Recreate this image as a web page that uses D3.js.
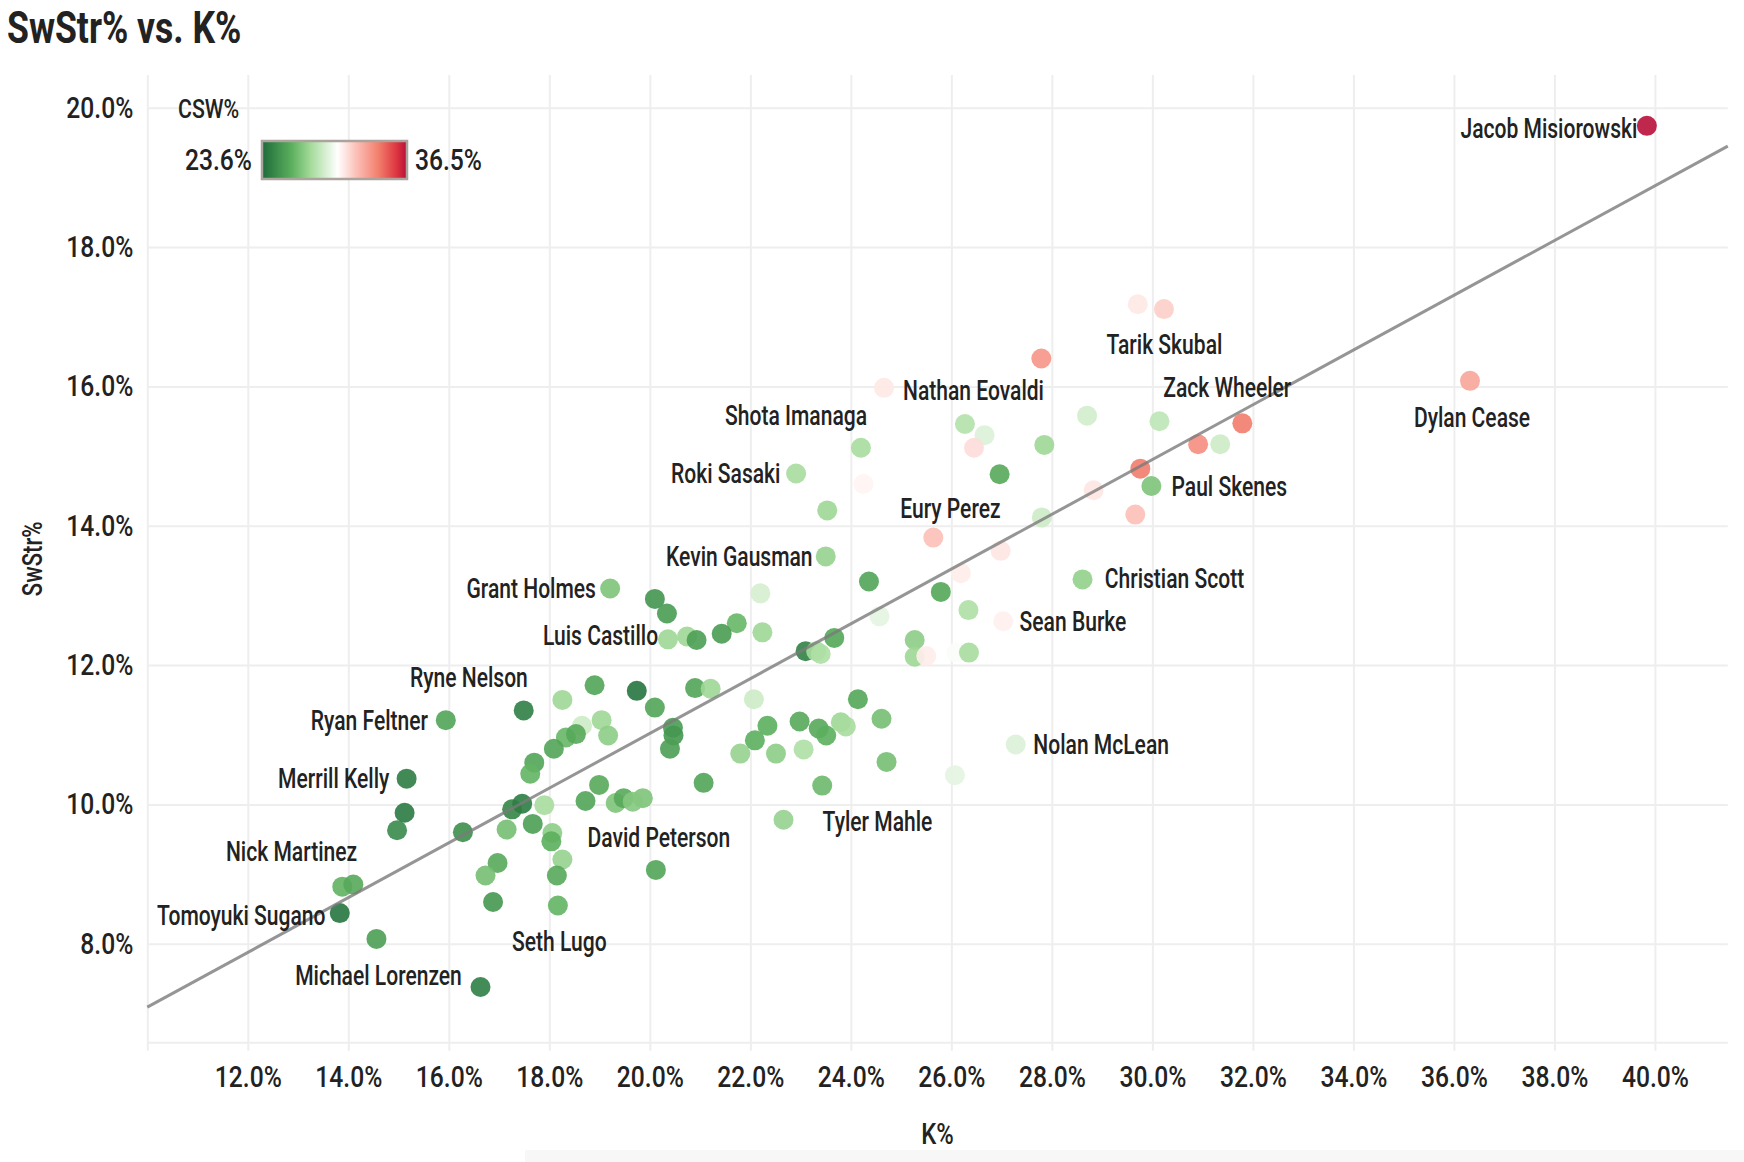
<!DOCTYPE HTML>
<html>
	<head>
		<meta http-equiv="content-type" content="text/html; charset=utf-8">
		<title>SwStr% vs. K%</title>
		<script src="https://d3js.org/d3.v7.min.js"></script>
		<style>
			body { margin: 0; background: #fff; }
			svg text { font-family: Roboto, "DejaVu Sans Condensed", sans-serif; font-weight: 500; fill: #222; }
		</style>
	</head>
	<body>
		<svg width="1744" height="1162"></svg>
		<script type="text/javascript" charset="utf-8">
// K%, SwStr%, CSW% per pitcher
var kPct = [
	39.84, 36.32, 29.71, 30.23, 27.79, 24.66, 31.79, 30.91, 31.35, 30.14,
	28.70, 27.85, 26.27, 26.66, 26.45, 24.20, 26.96, 22.91, 24.25, 23.53,
	29.76, 29.98, 29.66, 28.83, 27.80, 25.64, 26.98, 26.19, 23.50, 28.61,
	24.36, 25.79, 22.20, 20.10, 20.34, 19.21, 26.34, 24.57, 27.03, 21.73,
	21.43, 22.24, 20.36, 20.74, 20.93, 23.67, 23.10, 23.31, 23.40, 25.27,
	25.27, 25.50, 26.10, 26.35, 17.49, 15.94, 15.16, 15.12, 14.97, 16.28,
	17.26, 17.46, 17.90, 17.15, 17.67, 18.06, 18.04, 18.26, 18.15, 18.17,
	16.97, 16.73, 16.88, 20.12, 13.88, 14.10, 13.83, 14.56, 16.63, 18.26,
	18.90, 19.74, 20.10, 20.90, 21.21, 18.65, 19.04, 19.17, 18.33, 18.53,
	18.09, 17.70, 17.62, 20.46, 20.47, 20.40, 21.07, 18.99, 18.72, 19.32,
	19.48, 19.86, 22.07, 22.34, 22.09, 21.80, 22.51, 22.98, 23.36, 23.51,
	23.80, 23.90, 23.06, 24.14, 24.61, 24.71, 23.43, 22.66, 27.28, 26.07,
	19.66
];
var swStrPct = [
	19.74, 16.08, 17.18, 17.11, 16.40, 15.98, 15.47, 15.17, 15.17, 15.50,
	15.58, 15.16, 15.46, 15.30, 15.12, 15.12, 14.74, 14.75, 14.60, 14.22,
	14.82, 14.57, 14.16, 14.51, 14.12, 13.83, 13.64, 13.32, 13.56, 13.23,
	13.20, 13.05, 13.03, 12.95, 12.74, 13.10, 12.79, 12.70, 12.63, 12.60,
	12.45, 12.47, 12.37, 12.41, 12.36, 12.39, 12.20, 12.20, 12.16, 12.36,
	12.12, 12.13, 12.18, 12.18, 11.35, 11.21, 10.37, 9.88, 9.63, 9.60,
	9.93, 10.01, 9.99, 9.64, 9.72, 9.59, 9.47, 9.21, 8.98, 8.55,
	9.16, 8.98, 8.60, 9.06, 8.82, 8.85, 8.44, 8.07, 7.38, 11.50,
	11.71, 11.63, 11.39, 11.67, 11.66, 11.13, 11.21, 10.99, 10.96, 11.01,
	10.80, 10.60, 10.44, 11.10, 10.99, 10.80, 10.31, 10.28, 10.05, 10.02,
	10.09, 10.09, 11.51, 11.13, 10.92, 10.73, 10.73, 11.19, 11.09, 10.99,
	11.18, 11.12, 10.79, 11.51, 11.23, 10.61, 10.27, 9.78, 10.86, 10.42,
	10.04
];
var cswPct = [
	36.5, 32.8, 30.9, 31.6, 33.3, 30.9, 34.0, 33.5, 29.0, 28.6,
	29.1, 27.8, 28.3, 29.4, 31.2, 28.0, 26.0, 28.0, 30.6, 27.8,
	34.0, 27.0, 32.0, 31.0, 29.0, 32.0, 31.0, 30.8, 27.6, 27.5,
	25.8, 25.9, 29.2, 25.2, 25.5, 27.0, 28.2, 29.6, 30.7, 26.5,
	25.5, 27.8, 27.8, 27.8, 25.6, 25.9, 24.5, 28.0, 28.2, 27.4,
	27.8, 30.8, 30.2, 28.0, 24.4, 25.8, 24.3, 24.2, 24.8, 25.0,
	24.6, 24.3, 28.0, 26.8, 25.6, 27.4, 26.2, 27.6, 26.0, 26.4,
	26.0, 26.8, 25.3, 25.8, 26.3, 26.0, 24.0, 25.6, 24.4, 27.8,
	25.8, 24.0, 25.8, 25.8, 27.8, 29.0, 27.8, 27.4, 26.5, 26.0,
	25.8, 25.8, 26.4, 25.5, 25.3, 25.6, 25.8, 26.0, 25.8, 27.0,
	26.0, 27.0, 29.0, 26.2, 26.2, 27.6, 27.4, 26.0, 26.0, 26.2,
	27.8, 28.0, 28.2, 25.9, 26.8, 26.8, 26.6, 27.6, 29.4, 29.6,
	27.2
];

// named pitchers and where their labels sit (K%, SwStr%)
var labelNames = ["Jacob Misiorowski", "Dylan Cease", "Tarik Skubal", "Zack Wheeler", "Nathan Eovaldi",
	"Shota Imanaga", "Roki Sasaki", "Eury Perez", "Paul Skenes", "Kevin Gausman", "Christian Scott",
	"Grant Holmes", "Sean Burke", "Luis Castillo", "Ryne Nelson", "Ryan Feltner", "Nolan McLean",
	"Merrill Kelly", "Tyler Mahle", "David Peterson", "Nick Martinez", "Tomoyuki Sugano", "Seth Lugo",
	"Michael Lorenzen"];
var labelK = [37.89, 36.36, 30.24, 31.49, 26.44, 22.91, 21.51, 25.98, 31.53, 21.78, 30.44,
	17.64, 28.42, 19.02, 16.40, 14.42, 28.98, 13.71, 24.53, 20.18, 12.87, 11.87, 18.20, 14.60];
var labelS = [19.70, 15.55, 16.59, 15.97, 15.94, 15.58, 14.74, 14.24, 14.56, 13.55, 13.23,
	13.09, 12.62, 12.42, 11.82, 11.20, 10.85, 10.37, 9.74, 9.52, 9.31, 8.40, 8.02, 7.54];

var xTicks = [10, 12, 14, 16, 18, 20, 22, 24, 26, 28, 30, 32, 34, 36, 38, 40];
var yTicks = [8, 10, 12, 14, 16, 18, 20];

// trend line: SwStr% = a + b * K%
var fitIntercept = 3.16, fitSlope = 0.393;

// CSW% colour ramp
var cswMin = 23.6, cswMax = 36.5;
var rampStops = [0, 0.2, 0.34, 0.52, 0.65, 0.8, 0.92, 1];
var rampColors = ["#1c6b3a", "#5aae5c", "#a6dc9c", "#ffffff", "#fcc0b8", "#f3806f", "#df3a42", "#b80f3a"];

var svg = d3.select("svg");

var x = d3.scaleLinear().domain([10, 41.45]).range([147.3, 1727.8]),
	y = d3.scaleLinear().domain([6.58, 20.47]).range([1042.7, 75]);

var color = d3.scaleLinear()
	.domain(rampStops.map(function(t) { return cswMin + t * (cswMax - cswMin); }))
	.range(rampColors);

var pct = function(d) { return d.toFixed(1) + "%"; };

// narrow the glyphs around each text's own anchor (no condensed face installed)
function squeeze(sel, sx) {
	sel.each(function() {
		var t = d3.select(this),
			px = +t.attr("x") || 0,
			py = +t.attr("y") || 0;
		t.attr("transform", "translate(" + px + "," + py + ") scale(" + sx + ",1) translate(" + (-px) + "," + (-py) + ")");
	});
}

// faint strip along the bottom edge of the screenshot
svg.append("rect")
	.attr("x", 525).attr("y", 1150)
	.attr("width", 1219).attr("height", 12)
	.attr("fill", "#f7f7f7");

// grid + axes
svg.append("g")
	.attr("class", "axis axis--x")
	.attr("transform", "translate(0," + (y.range()[0] + 8) + ")")
	.call(d3.axisBottom(x)
		.tickValues(xTicks)
		.tickSize(-(y.range()[0] + 8 - y.range()[1]))
		.tickPadding(16)
		.tickFormat(function(d) { return d === 10 ? "" : pct(d); }));

svg.append("g")
	.attr("class", "axis axis--y")
	.attr("transform", "translate(" + x.range()[0] + ",0)")
	.call(d3.axisLeft(y)
		.tickValues(yTicks)
		.tickSize(-(x.range()[1] - x.range()[0]))
		.tickPadding(14)
		.tickFormat(pct));

svg.selectAll(".axis .domain").remove();
svg.selectAll(".axis .tick line")
	.attr("stroke", "#eeeeee")
	.attr("stroke-width", 2);
svg.selectAll(".axis text")
	.attr("fill", "#222")
	.style("font-size", "29px")
	.call(squeeze, 0.85);

// bottom edge of the panel
svg.append("line")
	.attr("x1", x.range()[0]).attr("x2", x.range()[1])
	.attr("y1", y.range()[0]).attr("y2", y.range()[0])
	.attr("stroke", "#eeeeee")
	.attr("stroke-width", 2);

// points
var pts = kPct.map(function(k, i) { return {k: k, s: swStrPct[i], c: cswPct[i]}; });

svg.append("g")
	.selectAll("circle")
	.data(pts)
	.enter().append("circle")
	.attr("cx", function(d) { return x(d.k); })
	.attr("cy", function(d) { return y(d.s); })
	.attr("r", 10)
	.attr("fill", function(d) { return color(d.c); })
	.attr("fill-opacity", 0.9);

// trend line
var xd = x.domain();
svg.append("line")
	.attr("x1", x(xd[0])).attr("y1", y(fitIntercept + fitSlope * xd[0]))
	.attr("x2", x(xd[1])).attr("y2", y(fitIntercept + fitSlope * xd[1]))
	.attr("stroke", "#7a7a7a")
	.attr("stroke-opacity", 0.8)
	.attr("stroke-width", 3);

// names
svg.append("g")
	.selectAll("text")
	.data(labelNames)
	.enter().append("text")
	.attr("x", function(d, i) { return x(labelK[i]); })
	.attr("y", function(d, i) { return y(labelS[i]); })
	.attr("text-anchor", "middle")
	.attr("dominant-baseline", "central")
	.style("font-size", "27px")
	.attr("fill", "#2b2b2b")
	.text(function(d) { return d; })
	.call(squeeze, 0.78);

// title and axis titles
svg.append("text")
	.attr("x", 7).attr("y", 43)
	.style("font-size", "45px")
	.style("font-weight", "700")
	.text("SwStr% vs. K%")
	.call(squeeze, 0.79);

svg.append("text")
	.attr("transform", "translate(33," + ((y.range()[0] + y.range()[1]) / 2) + ") rotate(-90) scale(0.82,1)")
	.attr("text-anchor", "middle")
	.attr("dominant-baseline", "central")
	.style("font-size", "27px")
	.text("SwStr%");

svg.append("text")
	.attr("x", (x.range()[0] + x.range()[1]) / 2)
	.attr("y", 1144)
	.attr("text-anchor", "middle")
	.style("font-size", "29px")
	.text("K%")
	.call(squeeze, 0.82);

// colour legend
var defs = svg.append("defs");
var grad = defs.append("linearGradient").attr("id", "csw-grad");
grad.selectAll("stop")
	.data(rampStops)
	.enter().append("stop")
	.attr("offset", function(d) { return (d * 100) + "%"; })
	.attr("stop-color", function(d, i) { return rampColors[i]; });

svg.append("text")
	.attr("x", 178).attr("y", 118)
	.style("font-size", "26px")
	.text("CSW%")
	.call(squeeze, 0.82);

svg.append("rect")
	.attr("x", 262).attr("y", 141)
	.attr("width", 145).attr("height", 38)
	.attr("fill", "url(#csw-grad)")
	.attr("stroke", "#aaa49c")
	.attr("stroke-width", 2.5);

svg.append("text")
	.attr("x", 252).attr("y", 170)
	.attr("text-anchor", "end")
	.style("font-size", "29px")
	.text(pct(cswMin))
	.call(squeeze, 0.85);

svg.append("text")
	.attr("x", 415).attr("y", 170)
	.style("font-size", "29px")
	.text(pct(cswMax))
	.call(squeeze, 0.85);
		</script>
	</body>
</html>
